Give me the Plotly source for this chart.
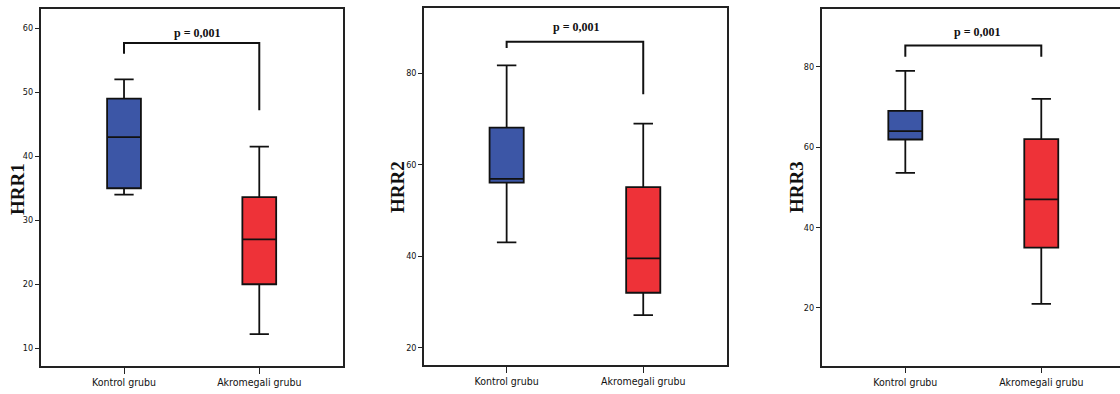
import plotly.graph_objects as go

# ---------------- data ----------------
groups = ["Kontrol grubu", "Akromegali grubu"]
panel_titles = ["HRR1", "HRR2", "HRR3"]

# per panel: [Kontrol, Akromegali]
lower_whisker = [[34.0, 12.2], [43.0, 27.1], [53.6, 21.0]]
q1_vals       = [[35.0, 20.0], [56.1, 32.0], [61.9, 35.0]]
median_vals   = [[43.0, 27.0], [56.9, 39.5], [64.0, 47.0]]
q3_vals       = [[49.0, 33.6], [68.1, 55.1], [69.0, 62.0]]
upper_whisker = [[52.0, 41.5], [81.7, 69.0], [79.0, 72.0]]

# significance bracket: [left leg end, top, right leg end]
bracket_left  = [56.0, 85.5, 82.5]
bracket_top   = [57.7, 86.9, 85.3]
bracket_right = [47.2, 75.4, 82.5]
p_label = "p = 0,001"
p_label_y = [59.3, 90.2, 88.7]
p_label_x = [0.54, 0.51, 0.53]

y_ticks = [[10, 20, 30, 40, 50, 60], [20, 40, 60, 80], [20, 40, 60, 80]]

# ---------------- layout constants ----------------
W, H = 1120, 394
box_colors = ["#3C56A6", "#EE3238"]
x_domains = [[40.7 / W, 343 / W], [424 / W, 726.7 / W], [821.7 / W, 1.0]]
y_domains = [[1 - 366 / H, 1 - 9 / H], [1 - 365 / H, 1 - 8.3 / H], [1 - 365.7 / H, 1 - 9.3 / H]]
x_ranges = [[-0.616, 1.619], [-0.605, 1.611], [-0.615, 1.579]]
y_ranges = [[7.23, 63.0], [16.2, 94.2], [5.6, 94.3]]
title_x_px = [18, 397, 796]
title_y_px = [189, 187, 187]

tick_font = dict(family="Liberation Sans Narrow, DejaVu Sans Condensed, Arial Narrow, sans-serif",
                 size=9, color="#111")
cat_font = dict(family="Liberation Sans Narrow, DejaVu Sans Condensed, Arial Narrow, sans-serif",
                size=10.5, color="#111")
serif_bold = "Liberation Serif, Times New Roman, serif"

fig = go.Figure()
annotations = []

for p in range(3):
    xa = "x" if p == 0 else f"x{p + 1}"
    ya = "y" if p == 0 else f"y{p + 1}"
    for g in range(2):
        fig.add_trace(go.Box(
            x=[g],
            q1=[q1_vals[p][g]], median=[median_vals[p][g]], q3=[q3_vals[p][g]],
            lowerfence=[lower_whisker[p][g]], upperfence=[upper_whisker[p][g]],
            width=0.25, whiskerwidth=0.57,
            fillcolor=box_colors[g],
            line=dict(color="#111", width=1.8),
            boxpoints=False, hoverinfo="skip", showlegend=False,
            xaxis=xa, yaxis=ya,
        ))
    fig.add_trace(go.Scatter(
        x=[0, 0, 1, 1],
        y=[bracket_left[p], bracket_top[p], bracket_top[p], bracket_right[p]],
        mode="lines", line=dict(color="#111", width=2),
        showlegend=False, hoverinfo="skip", xaxis=xa, yaxis=ya,
    ))
    annotations.append(dict(
        x=p_label_x[p], y=p_label_y[p], xref=xa, yref=ya, text=f"<b>{p_label}</b>",
        showarrow=False, xanchor="center", yanchor="middle",
        font=dict(family=serif_bold, size=12, color="#111"),
    ))
    annotations.append(dict(
        x=title_x_px[p] / W, y=1 - title_y_px[p] / H, xref="paper", yref="paper",
        text=f"<b>{panel_titles[p]}</b>", textangle=-90, showarrow=False,
        xanchor="center", yanchor="middle",
        font=dict(family=serif_bold, size=19, color="#111"),
    ))

    axis_common = dict(showgrid=False, zeroline=False, showline=True,
                       linecolor="#222", linewidth=1.5, ticks="outside",
                       tickcolor="#222", tickwidth=1.2)
    fig.update_layout(**{
        ("xaxis" if p == 0 else f"xaxis{p + 1}"): dict(
            axis_common, domain=x_domains[p], range=x_ranges[p],
            tickvals=[0, 1], ticktext=groups, ticklen=6, tickfont=cat_font,
            mirror=True, anchor=ya, fixedrange=True,
        ),
        ("yaxis" if p == 0 else f"yaxis{p + 1}"): dict(
            axis_common, domain=y_domains[p], range=y_ranges[p],
            tickvals=y_ticks[p], ticklen=4, tickfont=tick_font,
            mirror=(p != 2), anchor=xa, fixedrange=True,
        ),
    })

fig.update_layout(
    width=W, height=H,
    margin=dict(l=0, r=0, t=0, b=0),
    paper_bgcolor="white", plot_bgcolor="white",
    annotations=annotations, showlegend=False,
    boxmode="overlay",
)

fig.write_html("out.html")
